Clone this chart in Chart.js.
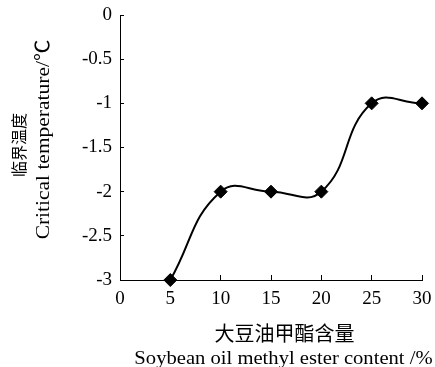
<!DOCTYPE html>
<html>
<head>
<meta charset="utf-8">
<script src="https://cdn.jsdelivr.net/npm/chart.js@4"></script>
<style>
  html, body { margin: 0; padding: 0; background: #fff; }
  #wrap { width: 435px; height: 367px; }
</style>
</head>
<body>
<div id="wrap"><canvas id="c" width="435" height="367"></canvas></div>
<script>
// Soybean oil methyl ester content (%) and critical temperature (℃)
const contents = [5, 10, 15, 20, 25, 30];
const critTemps = [-3, -2, -2, -2, -1, -1];
const xTicks = [0, 5, 10, 15, 20, 25, 30];
const yTicks = [0, -0.5, -1, -1.5, -2, -2.5, -3];

const xTitleCn = '大豆油甲酯含量';
const xTitleEn = 'Soybean oil methyl ester content /%';
const yTitleCn = '临界温度';
const yTitleEn = 'Critical temperature/℃';

const SERIF = '"Liberation Serif", "Times New Roman", "Noto Sans CJK SC", serif';
const CJK = '"Noto Sans CJK SC", "Liberation Serif", sans-serif';

// Axis titles drawn as two stacked lines (Chinese + English);
// the Latin lines use a slightly wide set serif face.
const titlePlugin = {
  id: 'axisTitles',
  afterDraw(chart) {
    const ctx = chart.ctx;
    ctx.save();
    ctx.fillStyle = '#000';

    ctx.textAlign = 'center';
    ctx.textBaseline = 'middle';
    ctx.font = '20px ' + CJK;
    ctx.fillText(xTitleCn, 284.5, 333);

    ctx.save();
    ctx.translate(283.5, 363.5);
    ctx.scale(1.085, 1);
    ctx.textAlign = 'center';
    ctx.textBaseline = 'alphabetic';
    ctx.font = '19px ' + SERIF;
    ctx.fillText(xTitleEn, 0, 0);
    ctx.restore();

    ctx.save();
    ctx.translate(18.5, 145);
    ctx.rotate(-Math.PI / 2);
    ctx.textAlign = 'center';
    ctx.textBaseline = 'middle';
    ctx.font = '16px ' + CJK;
    ctx.fillText(yTitleCn, 0, 0);
    ctx.restore();

    ctx.save();
    ctx.translate(48.5, 139.5);
    ctx.rotate(-Math.PI / 2);
    ctx.scale(1.13, 1);
    ctx.textAlign = 'center';
    ctx.textBaseline = 'alphabetic';
    ctx.font = '19px ' + SERIF;
    ctx.fillText(yTitleEn, 0, 0);
    ctx.restore();

    ctx.restore();
  }
};

function noScalePadding(scale) {
  scale.paddingTop = 0;
  scale.paddingBottom = 0;
  scale.paddingLeft = 0;
  scale.paddingRight = 0;
}

new Chart(document.getElementById('c'), {
  type: 'line',
  data: {
    datasets: [{
      data: contents.map((x, i) => ({ x: x, y: critTemps[i] })),
      borderColor: '#000',
      borderWidth: 2,
      tension: 0.45,
      pointStyle: 'rectRot',
      pointRadius: 6.5,
      pointBackgroundColor: '#000',
      pointBorderColor: '#000',
      pointBorderWidth: 1,
      clip: false
    }]
  },
  options: {
    responsive: false,
    animation: false,
    layout: { padding: { top: 15, right: 13, left: 0, bottom: 0 } },
    plugins: { legend: { display: false }, tooltip: { enabled: false } },
    scales: {
      x: {
        type: 'linear',
        min: 0, max: 30,
        afterBuildTicks(scale) { scale.ticks = xTicks.map(v => ({ value: v })); },
        afterFit(scale) { scale.height = 87; noScalePadding(scale); },
        grid: { drawOnChartArea: false, drawTicks: true, tickLength: -5, color: '#000' },
        border: { display: true, color: '#000', width: 1 },
        ticks: {
          color: '#000',
          font: { family: SERIF, size: 19 },
          padding: 13,
          maxRotation: 0,
          callback: v => String(v)
        }
      },
      y: {
        type: 'linear',
        min: -3, max: 0,
        afterBuildTicks(scale) { scale.ticks = yTicks.map(v => ({ value: v })); },
        afterFit(scale) { scale.width = 120; noScalePadding(scale); },
        grid: { drawOnChartArea: false, drawTicks: true, tickLength: -4, color: '#000' },
        border: { display: true, color: '#000', width: 1 },
        ticks: {
          color: '#000',
          font: { family: SERIF, size: 19 },
          padding: 12,
          callback: v => String(v)
        }
      }
    }
  },
  plugins: [titlePlugin]
});
</script>
</body>
</html>
